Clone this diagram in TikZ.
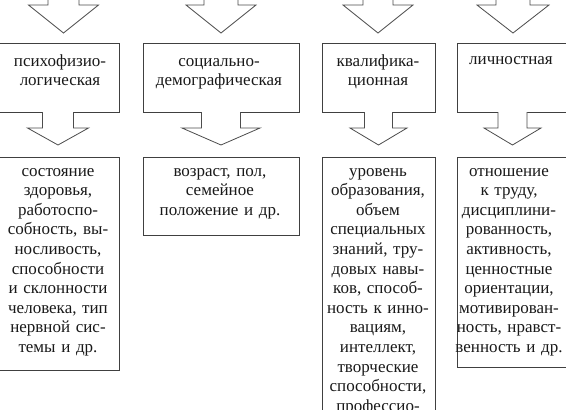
\documentclass[tikz,border=0pt]{standalone}
\usepackage{fontspec}
\setmainfont{Liberation Serif}
\usetikzlibrary{calc}

% block arrow: #1 shaft start, #2 tip, #3 shaft half-width, #4 head half-width, #5 head length
\newcommand{\blockarrow}[5]{%
  \fill[white] ($(#2 |- #1)+(-#3,-1.5)$) -- ($(#2)+(-#3,-#5)$) -- ($(#2)+(-#4,-#5)$) -- (#2)
    -- ($(#2)+(#4,-#5)$) -- ($(#2)+(#3,-#5)$) -- ($(#2 |- #1)+(#3,-1.5)$) -- cycle;
  \draw[flow] ($(#2 |- #1)+(-#3,0)$) -- ($(#2)+(-#3,-#5)$) -- ($(#2)+(-#4,-#5)$) -- (#2)
    -- ($(#2)+(#4,-#5)$) -- ($(#2)+(#3,-#5)$) -- ($(#2 |- #1)+(#3,0)$);}

\begin{document}
\begin{tikzpicture}[x=1pt, y=-1pt,
  box/.style={draw=black!75, line width=0.8pt, inner sep=0pt, outer sep=0pt},
  txt/.style={font=\fontsize{17}{19.6}\selectfont, text=black!90, align=center,
    text width=150pt, inner sep=0pt, anchor=base},
  flow/.style={draw=black!70, line width=0.8pt, line join=miter}]

  \useasboundingbox (0,0) rectangle (566,410);
  \clip (0,0) rectangle (566,410);

  % Upper row of boxes (kinds of characteristics)
  \node[box, minimum width=122, minimum height=69] (u1) at (58,77.5) {};
  \node[box, minimum width=156, minimum height=69] (u2) at (221,77.5) {};
  \node[box, minimum width=113, minimum height=69] (u3) at (378.5,77.5) {};
  \node[box, minimum width=113, minimum height=69] (u4) at (513.5,77.5) {};

  \node[txt] (u1t) at (60,66) {психофизио-\\логическая};
  \node[txt] (u2t) at (219,66) {социально-\\демографическая};
  \node[txt] (u3t) at (378,66) {квалифика-\\ционная};
  \node[txt] (u4t) at (511,64) {личностная};

  % Lower row of boxes (what each kind includes)
  \node[box, minimum width=122, minimum height=213] (d1) at (58,263.5) {};
  \node[box, minimum width=156, minimum height=78] (d2) at (221,196) {};
  \node[box, minimum width=113, minimum height=283] (d3) at (378.5,298.5) {};
  \node[box, minimum width=113, minimum height=210] (d4) at (513.5,262) {};

  \node[txt] (d1t) at (58,176) {состояние\\здоровья,\\работоспо-\\собность, вы-\\носливость,\\способности\\и склонности\\человека, тип\\нервной сис-\\темы и др.};
  \node[txt] (d2t) at (220,176) {возраст, пол,\\семейное\\положение и др.};
  \node[txt] (d3t) at (378,176) {уровень\\образования,\\объем\\специальных\\знаний, тру-\\довых навы-\\ков, способ-\\ность к инно-\\вациям,\\интеллект,\\творческие\\способности,\\профессио-};
  \node[txt] (d4t) at (509,176) {отношение\\к труду,\\дисциплини-\\рованность,\\активность,\\ценностные\\ориентации,\\мотивирован-\\ность, нравст-\\венность и др.};

  % Arrows coming in from above
  \coordinate (s1) at (63.5,-10);  \coordinate (q1) at (63.5,33);
  \coordinate (s2) at (221,-10);   \coordinate (q2) at (221,33);
  \coordinate (s3) at (378,-10);   \coordinate (q3) at (378,33);
  \coordinate (s4) at (513,-10);   \coordinate (q4) at (513,33);
  \blockarrow{s1}{q1}{15.5}{35}{28}
  \blockarrow{s2}{q2}{17}{35}{28}
  \blockarrow{s3}{q3}{15}{35}{28}
  \blockarrow{s4}{q4}{17}{36}{28}

  % Arrows from upper boxes down to lower boxes
  \coordinate (p1) at ($(d1.north)+(0,-12)$);
  \coordinate (p2) at ($(d2.north)+(0,-12)$);
  \coordinate (p3) at ($(d3.north)+(0,-12)$);
  \coordinate (p4) at ($(d4.north)+(-1,-12)$);
  \blockarrow{u1.south}{p1}{15.5}{30.5}{17}
  \blockarrow{u2.south}{p2}{19.5}{39}{17}
  \blockarrow{u3.south}{p3}{14}{28.5}{17}
  \blockarrow{u4.south}{p4}{14.5}{28.5}{17}

\end{tikzpicture}
\end{document}
